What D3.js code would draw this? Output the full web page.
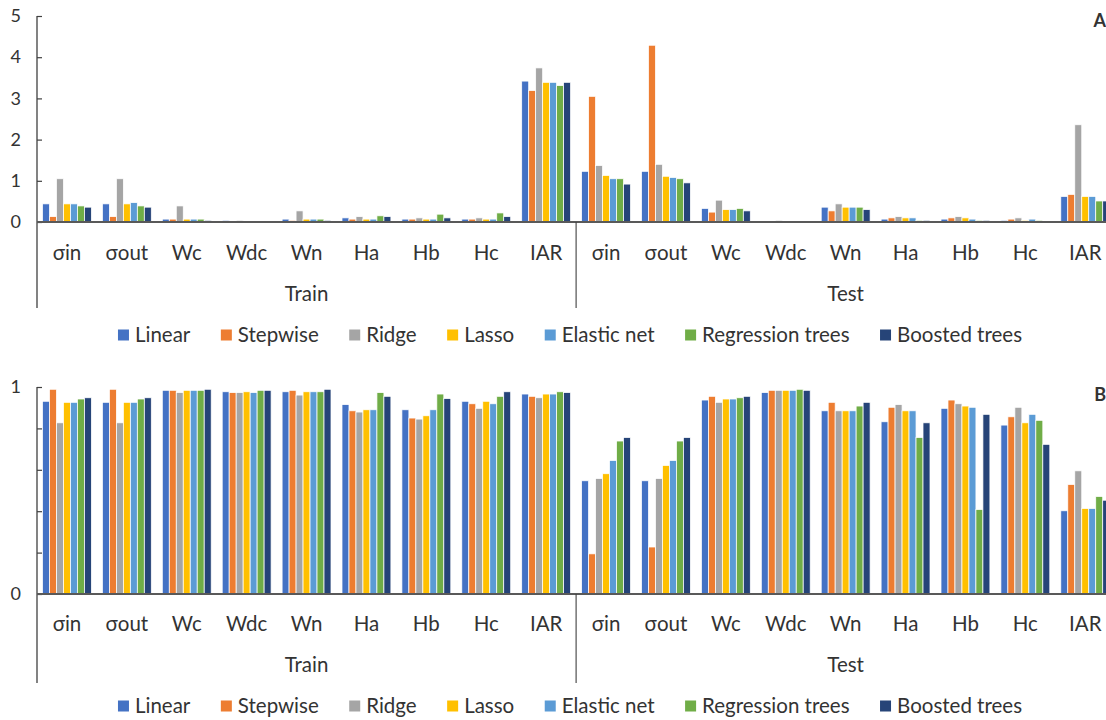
<!DOCTYPE html>
<html>
<head>
<meta charset="utf-8">
<script src="https://cdn.jsdelivr.net/npm/d3@7"></script>
<style>
  body { margin: 0; background: #fff; }
  svg { display: block; }
  text { font-family: "Lato", "Open Sans", sans-serif; fill: #333; }
</style>
</head>
<body>
<script>
// Categories: nine model outputs, each evaluated on the train and test split
const variables = ["σin", "σout", "Wc", "Wdc", "Wn", "Ha", "Hb", "Hc", "IAR"];
const splits = ["Train", "Test"];
const methods = ["Linear", "Stepwise", "Ridge", "Lasso", "Elastic net", "Regression trees", "Boosted trees"];

// Panel A values (train σin..IAR, then test σin..IAR)
const errLinear     = [0.44, 0.44, 0.07, 0.04, 0.07, 0.10, 0.07, 0.07, 3.42,   1.23, 1.23, 0.33, 0.00, 0.36, 0.07, 0.07, 0.04, 0.62];
const errStepwise   = [0.13, 0.13, 0.07, 0.00, 0.04, 0.07, 0.07, 0.07, 3.19,   3.05, 4.29, 0.24, 0.00, 0.27, 0.10, 0.10, 0.07, 0.67];
const errRidge      = [1.05, 1.05, 0.39, 0.04, 0.27, 0.13, 0.10, 0.10, 3.74,   1.37, 1.40, 0.53, 0.04, 0.44, 0.13, 0.13, 0.10, 2.36];
const errLasso      = [0.44, 0.44, 0.07, 0.00, 0.07, 0.07, 0.07, 0.07, 3.39,   1.13, 1.11, 0.30, 0.00, 0.36, 0.10, 0.10, 0.04, 0.62];
const errElastic    = [0.44, 0.47, 0.07, 0.00, 0.07, 0.07, 0.07, 0.07, 3.39,   1.05, 1.08, 0.30, 0.00, 0.36, 0.10, 0.07, 0.07, 0.62];
const errRegTrees   = [0.39, 0.39, 0.07, 0.00, 0.07, 0.15, 0.19, 0.22, 3.31,   1.05, 1.05, 0.33, 0.00, 0.36, 0.04, 0.04, 0.04, 0.51];
const errBoosted    = [0.36, 0.36, 0.04, 0.00, 0.04, 0.13, 0.10, 0.13, 3.39,   0.92, 0.95, 0.27, 0.00, 0.30, 0.04, 0.04, 0.00, 0.51];

// Panel B values (train σin..IAR, then test σin..IAR)
const fitLinear     = [0.931, 0.926, 0.984, 0.977, 0.977, 0.915, 0.890, 0.931, 0.966,   0.547, 0.547, 0.937, 0.973, 0.885, 0.832, 0.897, 0.816, 0.402];
const fitStepwise   = [0.989, 0.989, 0.984, 0.973, 0.984, 0.885, 0.850, 0.919, 0.955,   0.194, 0.227, 0.955, 0.984, 0.926, 0.902, 0.937, 0.856, 0.529];
const fitRidge      = [0.827, 0.827, 0.973, 0.973, 0.961, 0.879, 0.845, 0.897, 0.948,   0.558, 0.558, 0.926, 0.984, 0.885, 0.915, 0.919, 0.902, 0.595];
const fitLasso      = [0.926, 0.926, 0.984, 0.977, 0.977, 0.890, 0.861, 0.931, 0.966,   0.581, 0.621, 0.942, 0.984, 0.885, 0.885, 0.908, 0.827, 0.413];
const fitElastic    = [0.926, 0.926, 0.984, 0.973, 0.977, 0.890, 0.890, 0.919, 0.966,   0.645, 0.645, 0.942, 0.984, 0.885, 0.885, 0.902, 0.868, 0.413];
const fitRegTrees   = [0.942, 0.942, 0.984, 0.984, 0.977, 0.973, 0.966, 0.955, 0.977,   0.739, 0.739, 0.948, 0.989, 0.908, 0.756, 0.408, 0.839, 0.471];
const fitBoosted    = [0.948, 0.948, 0.989, 0.984, 0.989, 0.955, 0.944, 0.977, 0.973,   0.756, 0.756, 0.955, 0.984, 0.926, 0.827, 0.868, 0.723, 0.453];

const ticksA = [0, 1, 2, 3, 4, 5];
const tickLabelsA = ["0", "1", "2", "3", "4", "5"];
const ticksB = [0, 0.2, 0.4, 0.6, 0.8, 1];
const tickLabelsB = ["0", "", "", "", "", "1"];

const colors = ["#4472C4", "#ED7D31", "#A5A5A5", "#FFC000", "#5B9BD5", "#70AD47", "#264478"];

const W = 1106, H = 720;
const svg = d3.select("body").append("svg").attr("width", W).attr("height", H);

const groupKeys = splits.flatMap(s => variables.map(v => s + "|" + v));
const axisX = 37;
const x0 = d3.scaleBand().domain(groupKeys).range([axisX, axisX + 18 * 59.9]).padding(0);
const x1 = d3.scaleBand().domain(methods).range([5.5, x0.bandwidth() - 5.5]).padding(0);

const panels = [
  { letter: "A", series: [errLinear, errStepwise, errRidge, errLasso, errElastic, errRegTrees, errBoosted],
    domain: [0, 5], base: 222, top: 16, ticks: ticksA, labels: tickLabelsA,
    axisEnd: 308, catY: 253, splitY: 294, legendY: 335, letterY: 27 },
  { letter: "B", series: [fitLinear, fitStepwise, fitRidge, fitLasso, fitElastic, fitRegTrees, fitBoosted],
    domain: [0, 1], base: 594, top: 387, ticks: ticksB, labels: tickLabelsB,
    axisEnd: 683, catY: 624, splitY: 665, legendY: 706, letterY: 401 }
];

panels.forEach(p => {
  const g = svg.append("g");
  const y = d3.scaleLinear().domain(p.domain).range([p.base, p.top]);

  // clustered bars
  const rows = groupKeys.map((k, i) => ({ key: k, vals: methods.map((m, j) => ({ m, j, v: p.series[j][i] })) }));
  const grp = g.selectAll("g.grp").data(rows).join("g")
    .attr("transform", d => `translate(${x0(d.key)},0)`);
  grp.selectAll("rect").data(d => d.vals).join("rect")
    .attr("x", d => x1(d.m))
    .attr("width", x1.bandwidth())
    .attr("y", d => y(d.v))
    .attr("height", d => Math.max(0, y(0) - y(d.v)))
    .attr("fill", d => colors[d.j])
    .attr("stroke", "#fff")
    .attr("stroke-width", 0.75);

  // value axis with inward ticks
  const yAxis = d3.axisLeft(y).tickValues(p.ticks)
    .tickFormat((d, i) => p.labels[i]).tickSize(-5).tickPadding(16);
  const ya = g.append("g").attr("transform", `translate(${axisX},0)`).call(yAxis);
  ya.select(".domain").remove();
  ya.selectAll(".tick line").attr("stroke", "#404040").attr("stroke-width", 1.2);
  ya.selectAll(".tick text").attr("font-size", 18).attr("font-family", "Lato, sans-serif").attr("fill", "#333");

  // axis lines: value axis continues down through the category area
  g.append("line").attr("x1", axisX).attr("x2", axisX).attr("y1", p.top).attr("y2", p.axisEnd)
    .attr("stroke", "#404040").attr("stroke-width", 1.3);
  g.append("line").attr("x1", axisX).attr("x2", W).attr("y1", p.base).attr("y2", p.base)
    .attr("stroke", "#595959").attr("stroke-width", 1.8);
  // divider between the two splits
  const divX = x0("Test|" + variables[0]);
  g.append("line").attr("x1", divX).attr("x2", divX).attr("y1", p.base).attr("y2", p.axisEnd)
    .attr("stroke", "#404040").attr("stroke-width", 1.1);

  // category labels
  const xa = g.append("g").attr("transform", `translate(0,${p.catY})`)
    .call(d3.axisBottom(x0).tickSize(0).tickFormat(d => d.split("|")[1]));
  xa.select(".domain").remove();
  xa.selectAll("text").attr("y", 0).attr("dy", "0.35em").attr("font-size", 20.5)
    .attr("font-family", "Lato, sans-serif").attr("fill", "#333");

  // split labels
  splits.forEach(s => {
    const a = x0(s + "|" + variables[0]);
    const b = x0(s + "|" + variables[variables.length - 1]) + x0.bandwidth();
    g.append("text").attr("x", (a + b) / 2).attr("y", p.splitY).attr("dy", "0.35em")
      .attr("text-anchor", "middle").attr("font-size", 20.5).text(s);
  });

  // legend, centred
  const gap = 30.5;
  const leg = g.append("g");
  const items = leg.selectAll("g").data(methods).join("g");
  items.append("rect").attr("width", 11).attr("height", 11).attr("y", -5.5)
    .attr("fill", (d, i) => colors[i]);
  items.append("text").attr("x", 17).attr("dy", "0.35em").attr("font-size", 20.5).text(d => d);
  let cx = 0;
  items.each(function () {
    const w = 17 + d3.select(this).select("text").node().getComputedTextLength();
    d3.select(this).attr("transform", `translate(${cx},${p.legendY})`);
    cx += w + gap;
  });
  const total = cx - gap;
  leg.attr("transform", `translate(${570 - total / 2},0)`);

  // panel letter
  g.append("text").attr("x", 1106).attr("y", p.letterY).attr("text-anchor", "end")
    .attr("font-size", 18).attr("font-weight", "bold").attr("fill", "#000").text(p.letter);
});
</script>
</body>
</html>
